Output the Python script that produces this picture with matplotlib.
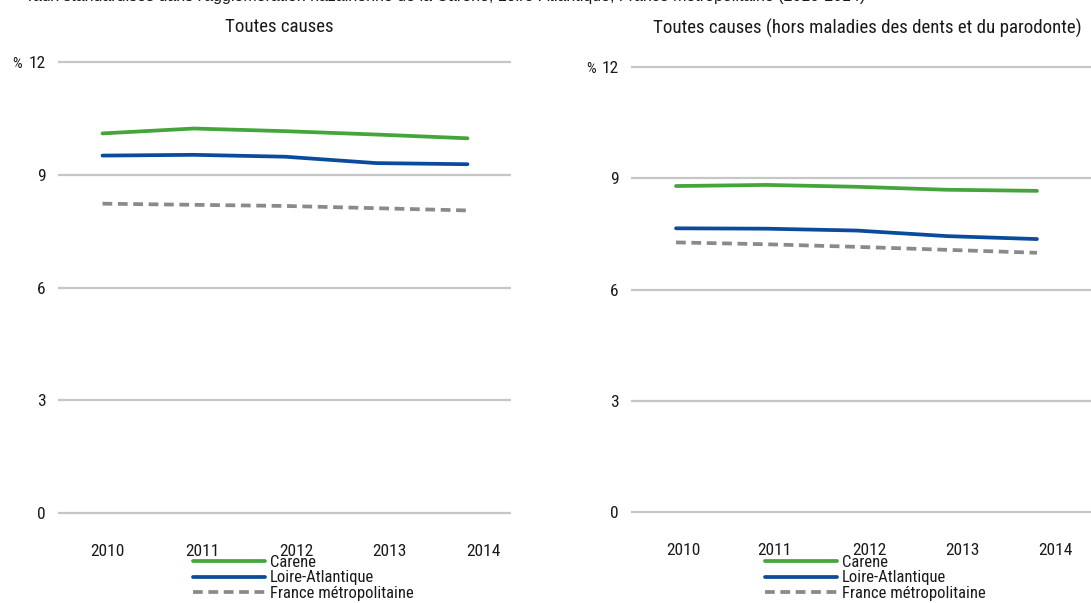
import matplotlib
matplotlib.use("Agg")
import matplotlib.pyplot as plt
from matplotlib import font_manager

# --- data -------------------------------------------------------------
years = ["2010", "2011", "2012", "2013", "2014"]
series_names = ["Carene", "Loire-Atlantique", "France métropolitaine"]

# Toutes causes
all_carene = [10.10, 10.23, 10.16, 10.07, 9.97]
all_loire = [9.51, 9.53, 9.48, 9.31, 9.28]
all_france = [8.23, 8.20, 8.17, 8.11, 8.05]

# Toutes causes (hors maladies des dents et du parodonte)
excl_carene = [8.79, 8.82, 8.77, 8.69, 8.66]
excl_loire = [7.65, 7.64, 7.59, 7.44, 7.36]
excl_france = [7.27, 7.22, 7.15, 7.07, 6.99]

panel_titles = ["Toutes causes",
                "Toutes causes (hors maladies des dents et du parodonte)"]
y_ticks = [0, 3, 6, 9, 12]

# --- pick a narrow sans-serif if one is available ---------------------
entries = font_manager.fontManager.ttflist
choice = None
for fam in ["Liberation Sans Narrow", "Roboto Condensed", "Open Sans Condensed",
            "Noto Sans", "DejaVu Sans", "Roboto", "Open Sans", "Liberation Sans"]:
    for e in entries:
        if e.name == fam and e.weight in (400, "normal", "regular") and e.style == "normal":
            st = str(e.stretch)
            if "Narrow" in fam or "Condensed" in fam or "condensed" in st:
                choice = (fam, st)
                break
    if choice:
        break
if choice is None:
    choice = ("DejaVu Sans", "normal")
plt.rcParams["font.family"] = [choice[0], "DejaVu Sans"]
plt.rcParams["font.stretch"] = choice[1]

GREEN = "#43a53a"
BLUE = "#0a4c9b"
GREY = "#8a8a8a"
GRID = "#c6c6c6"
TEXT = "#1a1a1a"

W, H = 1091, 603
fig = plt.figure(figsize=(W / 100, H / 100), dpi=100)


def frac_box(x0, x1, y_top, y_bot):
    return [x0 / W, 1 - y_bot / H, (x1 - x0) / W, (y_bot - y_top) / H]


# axes boxes in pixels: (left, right, y of 12, y of 0)
boxes = [(58, 511, 62, 513), (631, 1092, 67, 512)]
# x extent of the category axis for each panel
xlims = [(-0.488, 4.477), (-0.499, 4.61)]
label_pos = [[0.05, 1.10, 2.13, 3.15, 4.17], [0.08, 1.09, 2.14, 3.17, 4.21]]
panel_data = [(all_carene, all_loire, all_france),
              (excl_carene, excl_loire, excl_france)]
legend_anchor = [(193, 555), (765, 555)]
pct_offset = [-36, -35]
title_pad = [20, 22.5]
title_x = [0.489, 0.512]

for i, (box, xl, data, title) in enumerate(zip(boxes, xlims, panel_data, panel_titles)):
    x0, x1, yt, yb = box
    pad = 0.06
    ppu = (yb - yt) / 12.0
    ax = fig.add_axes(frac_box(x0, x1, yt - pad * ppu, yb + pad * ppu))
    ax.set_ylim(-pad, 12 + pad)
    ax.set_xlim(*xl)
    for s in ax.spines.values():
        s.set_visible(False)
    for v in y_ticks:
        ax.axhline(v, color=GRID, lw=1.6, zorder=0)

    xs = list(range(len(years)))
    c, l, f = data
    ax.plot(xs, c, color=GREEN, lw=2.7, solid_capstyle="round", label=series_names[0], zorder=3)
    ax.plot(xs, l, color=BLUE, lw=2.7, solid_capstyle="round", label=series_names[1], zorder=3)
    ax.plot(xs, f, color=GREY, lw=2.7, dashes=(2.6, 1.5), dash_capstyle="butt",
            label=series_names[2], zorder=2)

    ax.set_yticks(y_ticks)
    ax.set_yticklabels([str(v) for v in y_ticks])
    ax.tick_params(axis="y", length=0, pad=9, labelsize=12.5, labelcolor=TEXT)
    ax.set_xticks(label_pos[i])
    ax.set_xticklabels(years)
    ax.tick_params(axis="x", length=0, pad=21, labelsize=12.5, labelcolor=TEXT)
    ax.annotate("%", xy=(0, 12), xycoords=("axes fraction", "data"),
                xytext=(pct_offset[i], -2), textcoords="offset pixels",
                ha="right", va="center", fontsize=11, color=TEXT)
    ax.set_title(title, fontsize=13.6, color=TEXT, pad=title_pad[i], x=title_x[i])

    lx, ly = legend_anchor[i]
    ax.legend(loc="upper left", bbox_to_anchor=(lx / W, 1 - ly / H),
              bbox_transform=fig.transFigure, frameon=False, fontsize=12,
              handlelength=4.3, handletextpad=0.3, labelspacing=0.02,
              borderpad=0, borderaxespad=0, labelcolor=TEXT)

# heading line, mostly above the top edge of the image
fig.text(865 / W, 1 - 1.0 / H,
         "Taux standardisés dans l'agglomération nazairienne de la Carene, "
         "Loire-Atlantique, France métropolitaine (2010-2014)",
         ha="right", va="baseline", fontsize=11.5, color=TEXT,
         family=["Liberation Sans", "DejaVu Sans"], stretch="normal")

fig.savefig("out.png", dpi=100)
